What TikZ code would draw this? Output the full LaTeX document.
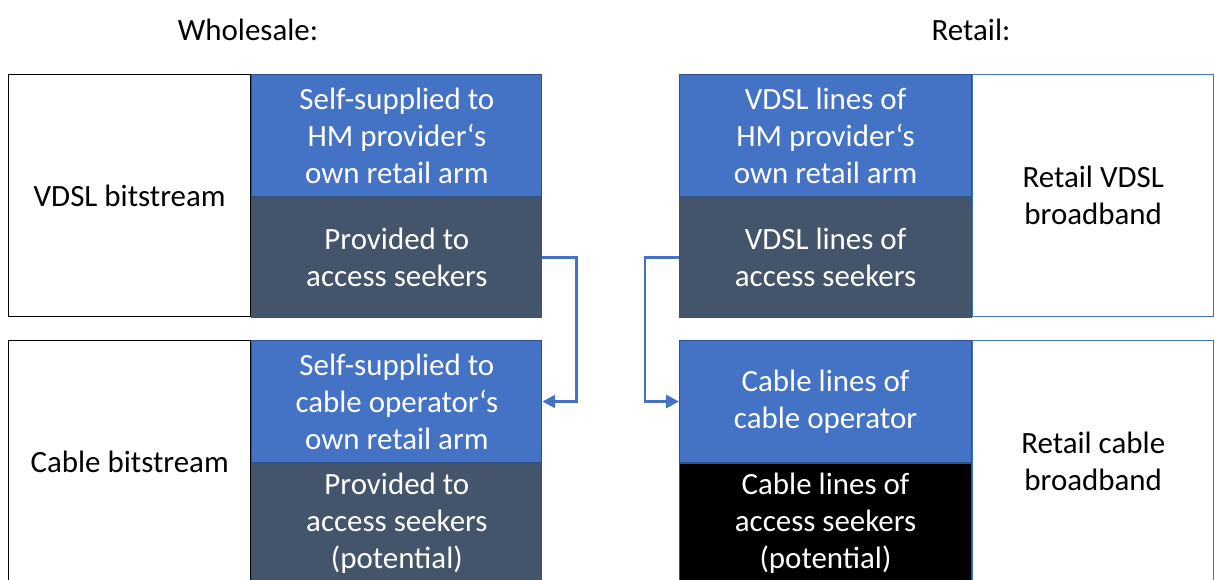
\documentclass[tikz,border=0pt]{standalone}
\usepackage{fontspec}
\setmainfont{Carlito}
\usetikzlibrary{arrows.meta,positioning}

\definecolor{selfblue}{HTML}{4472C4}
\definecolor{accslate}{HTML}{44546A}
\definecolor{edgeblue}{HTML}{2F528F}

\begin{document}
\begin{tikzpicture}[
  x=0.025cm, y=-0.025cm,
  font=\fontsize{22}{26.3}\selectfont,
  plain/.style={draw=black, line width=0.9pt, fill=white, align=center,
    inner sep=0pt},
  retail/.style={draw=selfblue, line width=0.9pt, fill=white, align=center,
    inner sep=0pt},
  self/.style={draw=edgeblue, line width=0.7pt, fill=selfblue, text=white,
    align=center, inner sep=0pt, minimum height=3.05cm},
  acc/.style={draw=edgeblue, line width=0.7pt, fill=accslate, text=white,
    align=center, inner sep=0pt, minimum height=3.0cm},
  conn/.style={draw=selfblue, line width=2pt,
    -{Triangle[length=3.2mm, width=3.2mm]}},
  title/.style={inner sep=0pt}
]
\clip (0,0) rectangle (1215,579);

% ── Headings ──────────────────────────────────────────────────────────────
\node[title] (whead) at (248,30) {Wholesale:};
\node[title] (rhead) at (971,30) {Retail:};

% ── Wholesale: VDSL bitstream ─────────────────────────────────────────────
\node[plain, anchor=north west, minimum width=6.05cm, minimum height=6.05cm]
  (wvdsl) at (8,74) {VDSL bitstream};
\node[self, anchor=north west, minimum width=7.25cm] (wvself)
  at (wvdsl.north east) {Self-supplied to\\ HM provider‘s\\ own retail arm};
\node[acc, below=0pt of wvself, minimum width=7.25cm] (wvacc)
  {Provided to\\ access seekers};

% ── Wholesale: cable bitstream ────────────────────────────────────────────
\node[plain, anchor=north west, minimum width=6.05cm, minimum height=6.05cm]
  (wcable) at (8,340) {Cable bitstream};
\node[self, anchor=north west, minimum width=7.25cm] (wcself)
  at (wcable.north east) {Self-supplied to\\ cable operator‘s\\ own retail arm};
\node[acc, below=0pt of wcself, minimum width=7.25cm] (wcacc)
  {Provided to\\ access seekers\\ (potential)};

% ── Retail: VDSL broadband ────────────────────────────────────────────────
\node[self, anchor=north west, minimum width=7.3cm] (rvself) at (679,74)
  {VDSL lines of\\ HM provider‘s\\ own retail arm};
\node[acc, below=0pt of rvself, minimum width=7.3cm] (rvacc)
  {VDSL lines of\\ access seekers};
\node[retail, anchor=north west, minimum width=6.025cm, minimum height=6.05cm]
  (rvdsl) at (rvself.north east) {Retail VDSL\\ broadband};

% ── Retail: cable broadband ───────────────────────────────────────────────
\node[self, anchor=north west, minimum width=7.3cm] (rcself) at (679,340)
  {Cable lines of\\ cable operator};
\node[acc, fill=black, below=0pt of rcself, minimum width=7.3cm] (rcacc)
  {Cable lines of\\ access seekers\\ (potential)};
\node[retail, anchor=north west, minimum width=6.025cm, minimum height=6.05cm]
  (rcable) at (rcself.north east) {Retail cable\\ broadband};

% ── Connectors ────────────────────────────────────────────────────────────
\draw[conn] (wvacc.east) -- ++(34,0) |- (wcself.east);
\draw[conn] (rvacc.west) -- ++(-34,0) |- (rcself.west);

\end{tikzpicture}
\end{document}
